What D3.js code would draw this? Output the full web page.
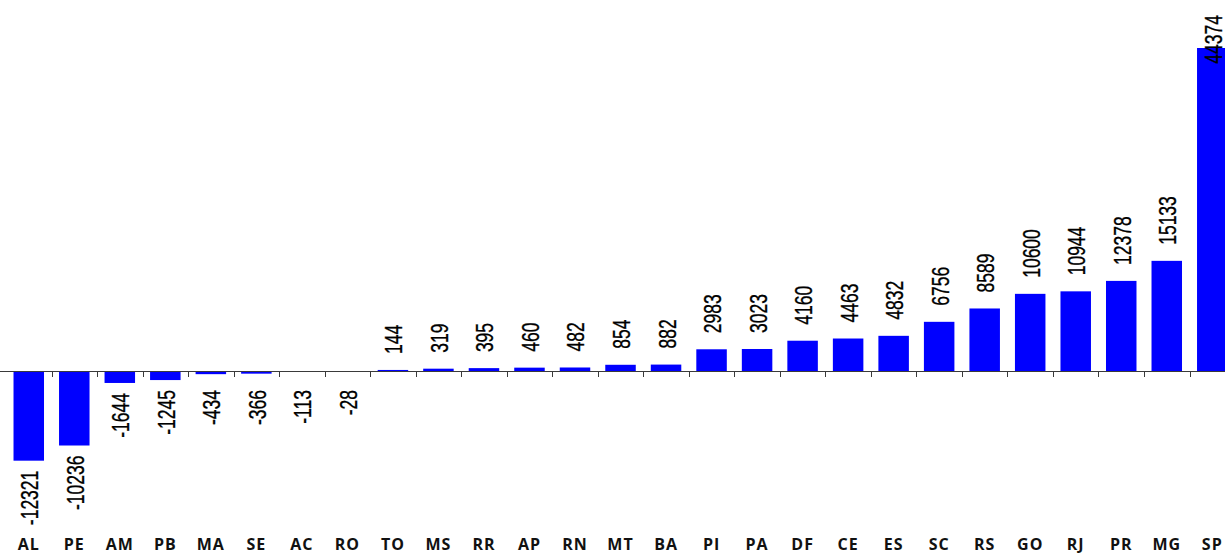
<!DOCTYPE html>
<html>
<head>
<meta charset="utf-8">
<script src="https://cdn.jsdelivr.net/npm/d3@7"></script>
<style>
  html, body { margin: 0; padding: 0; background: #ffffff; overflow: hidden; }
  svg { display: block; }
</style>
</head>
<body>
<svg id="chart" width="1225" height="555"></svg>
<script>
// Saldo por unidade da federação, ordenado do menor para o maior
const states = ["AL","PE","AM","PB","MA","SE","AC","RO","TO","MS","RR","AP","RN","MT","BA","PI","PA","DF","CE","ES","SC","RS","GO","RJ","PR","MG","SP"];
const values = [-12321,-10236,-1644,-1245,-434,-366,-113,-28,144,319,395,460,482,854,882,2983,3023,4160,4463,4832,6756,8589,10600,10944,12378,15133,44374];

const W = 1225, H = 555;
const svg = d3.select("#chart");

const x = d3.scaleBand()
  .domain(states)
  .range([6, 6 + 27 * 45.52])
  .paddingInner(0.33)
  .paddingOuter(0.165);

const y = d3.scaleLinear()
  .domain([0, 44374])
  .range([371, 48]);

const step = x.step();
const y0 = y(0);

// bars
svg.append("g")
  .selectAll("rect")
  .data(states)
  .join("rect")
  .attr("x", d => x(d))
  .attr("width", x.bandwidth())
  .attr("y", (d, i) => Math.min(y(values[i]), y0))
  .attr("height", (d, i) => Math.abs(y(values[i]) - y0))
  .attr("fill", "#0000ff");

// zero line with category separators
const axis = svg.append("g").attr("stroke", "#3a3a3a").attr("stroke-width", 1);
axis.append("line")
  .attr("x1", 0).attr("x2", W)
  .attr("y1", y0 + 0.5).attr("y2", y0 + 0.5);
axis.selectAll("line.sep")
  .data(states.slice(1))
  .join("line")
  .attr("class", "sep")
  .attr("x1", d => Math.round(x(d) - step * x.paddingInner() / 2) + 0.5)
  .attr("x2", d => Math.round(x(d) - step * x.paddingInner() / 2) + 0.5)
  .attr("y1", y0)
  .attr("y2", y0 + 6);

// value labels, rotated
const labels = svg.append("g")
  .attr("font-family", "'Liberation Sans', Arial, sans-serif")
  .attr("font-size", 17.5)
  .attr("fill", "#000")
  .attr("stroke", "#000")
  .attr("stroke-width", 0.25);

states.forEach((s, i) => {
  const v = values[i];
  const cx = x(s) + x.bandwidth() / 2 + 1;
  const g = labels.append("g");
  const t = g.append("text")
    .attr("dy", "0.35em")
    .attr("text-anchor", "end")
    .text(v);
  const len = t.node().getComputedTextLength();
  let yPos;
  if (v >= 0) {
    // text runs upward; its top end must stay inside the frame
    yPos = Math.max(y(v) - 16 - len, 15);
  } else {
    yPos = Math.max(y(v) + 10, 390);
  }
  g.attr("transform", `translate(${cx},${yPos}) rotate(-90) scale(1,1.38)`);
});

// category labels along the bottom
const xAxis = d3.axisBottom(x).tickSize(0).tickPadding(0);
const gx = svg.append("g")
  .attr("transform", `translate(0,${H - 16})`)
  .call(xAxis);
gx.select(".domain").remove();
gx.selectAll("text")
  .attr("font-family", "'Open Sans', sans-serif")
  .attr("font-weight", "bold")
  .attr("font-size", 16)
  .attr("letter-spacing", "1px")
  .attr("fill", "#111")
  .attr("dy", "0.71em");
</script>
</body>
</html>
